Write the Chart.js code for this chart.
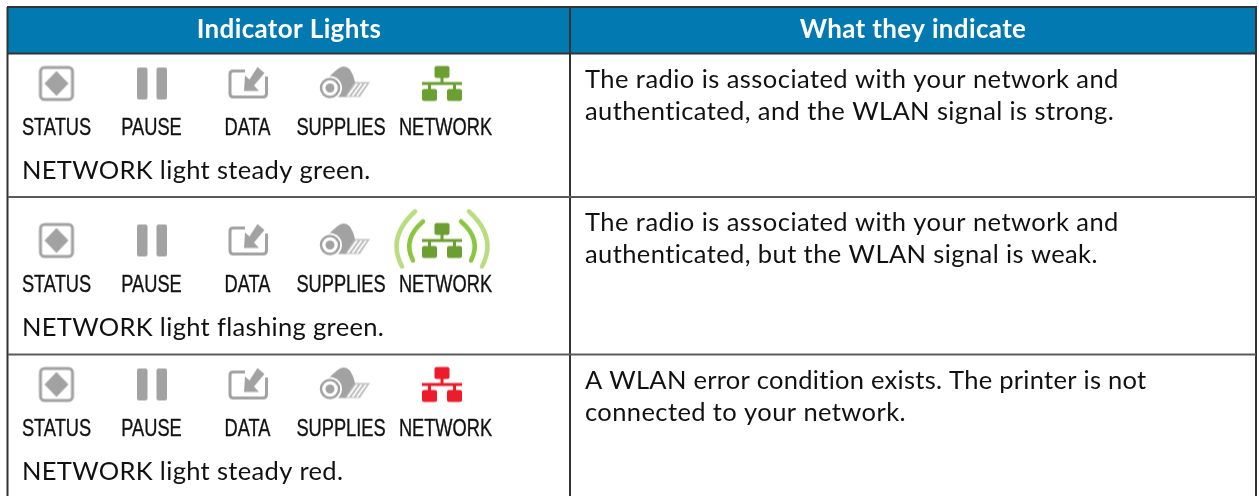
<!DOCTYPE html>
<html>
<head>
<meta charset="utf-8">
<style>
  html, body { margin: 0; padding: 0; background: #fff; overflow: hidden; }
  canvas { display: block; }
</style>
<script src="https://cdn.jsdelivr.net/npm/chart.js@4/dist/chart.umd.min.js"></script>
</head>
<body>
<canvas id="chart" width="1259" height="496"></canvas>
<script>
const tableHeaders = ["Indicator Lights", "What they indicate"];
const indicatorNames = ["STATUS", "PAUSE", "DATA", "SUPPLIES", "NETWORK"];
const networkStates = ["steady green", "flashing green", "steady red"];
const lightCaptions = [
  "NETWORK light steady green.",
  "NETWORK light flashing green.",
  "NETWORK light steady red.",
];
const descriptionFirstLines = [
  "The radio is associated with your network and",
  "The radio is associated with your network and",
  "A WLAN error condition exists. The printer is not",
];
const descriptionSecondLines = [
  "authenticated, and the WLAN signal is strong.",
  "authenticated, but the WLAN signal is weak.",
  "connected to your network.",
];

// page layout, all in picture pixels
const columnRules = [8, 570, 1256];
const rowRules = [8, 53.5, 197, 354.5, 496];
const headerCentres = [289, 913];
const iconX = [56.5, 152, 248, 346, 442];
const labelX = [56.5, 151.5, 247.5, 341, 445.5];
const rowShift = [0, 157, 301];
const textShift = [0, 143, 301];
const iconY = 83.5;
const labelY = 134.5;
const captionY = 178.5;
const firstLineY = 87.5;
const secondLineY = 119.5;
// Lato runs a little wider than the original face on some lines
const firstLineSpacing = ["0.45px", "0.45px", "0.27px"];
const secondLineSpacing = ["0.4px", "0.4px", "0.4px"];

const blue = "#0279b1";
const ruleDark = "#333333";
const ruleGrey = "#5a5a5a";
const iconGrey = "#a2a2a2";

function newIcon(width, height, draw) {
  const canvas = document.createElement("canvas");
  canvas.width = width;
  canvas.height = height;
  const ctx = canvas.getContext("2d");
  ctx.translate(width / 2, height / 2);
  draw(ctx);
  return canvas;
}

function box(ctx, x, y, w, h, r) {
  ctx.beginPath();
  ctx.roundRect(x, y, w, h, r);
  ctx.fill();
}

function statusIcon(ctx) {
  ctx.strokeStyle = iconGrey;
  ctx.fillStyle = iconGrey;
  ctx.lineWidth = 3;
  ctx.beginPath();
  ctx.roundRect(-16, -16, 32, 32, 4);
  ctx.stroke();
  ctx.beginPath();
  ctx.moveTo(0, -12.5);
  ctx.lineTo(12, 0);
  ctx.lineTo(0, 12.5);
  ctx.lineTo(-12, 0);
  ctx.closePath();
  ctx.fill();
}

function pauseIcon(ctx) {
  ctx.fillStyle = iconGrey;
  box(ctx, -15, -16, 10.5, 32, 2);
  box(ctx, 4.5, -16, 10.5, 32, 2);
}

function dataIcon(ctx) {
  ctx.strokeStyle = iconGrey;
  ctx.fillStyle = iconGrey;
  ctx.lineWidth = 3;
  ctx.lineJoin = "round";
  ctx.beginPath();
  ctx.moveTo(-3, -12.5);
  ctx.lineTo(-15, -12.5);
  ctx.quadraticCurveTo(-18, -12.5, -18, -9.5);
  ctx.lineTo(-18, 10);
  ctx.quadraticCurveTo(-18, 13.5, -14.5, 13.5);
  ctx.lineTo(15, 13.5);
  ctx.quadraticCurveTo(18.5, 13.5, 18.5, 10);
  ctx.lineTo(18.5, -7);
  ctx.stroke();
  const arrow = [[-4, 7.5], [-3, -8], [1.5, -4], [9.5, -16.5], [16.5, -10.5], [6, 2], [11, 7.5]];
  ctx.beginPath();
  arrow.forEach((p, i) => (i ? ctx.lineTo(p[0], p[1]) : ctx.moveTo(p[0], p[1])));
  ctx.closePath();
  ctx.strokeStyle = "#fff";
  ctx.lineWidth = 3;
  ctx.stroke();
  ctx.fill();
}

function suppliesIcon(ctx) {
  ctx.fillStyle = iconGrey;
  ctx.beginPath();
  ctx.moveTo(-18, -6);
  ctx.lineTo(-9, -14);
  ctx.quadraticCurveTo(-2, -20, 4, -14);
  ctx.quadraticCurveTo(8, -8, 9, -1.5);
  ctx.lineTo(9, 8);
  ctx.lineTo(0, 13.5);
  ctx.lineTo(-12, 13.5);
  ctx.closePath();
  ctx.fill();
  ctx.fillStyle = "#c2c2c2";
  ctx.beginPath();
  ctx.moveTo(9, -1.5);
  ctx.lineTo(24, -1.5);
  ctx.lineTo(14, 13.5);
  ctx.lineTo(-1, 13.5);
  ctx.closePath();
  ctx.fill();
  ctx.strokeStyle = "#fff";
  ctx.lineWidth = 1.5;
  for (const s of [8, 12.5, 17]) {
    ctx.beginPath();
    ctx.moveTo(s + 3, 0);
    ctx.lineTo(s - 6, 12.5);
    ctx.stroke();
  }
  ctx.fillStyle = "#fff";
  ctx.beginPath();
  ctx.arc(-16, 4.5, 12, 0, Math.PI * 2);
  ctx.fill();
  ctx.strokeStyle = iconGrey;
  ctx.lineWidth = 2.5;
  ctx.beginPath();
  ctx.arc(-16, 4.5, 9, 0, Math.PI * 2);
  ctx.stroke();
  ctx.fillStyle = iconGrey;
  ctx.beginPath();
  ctx.arc(-16, 4.5, 4.5, 0, Math.PI * 2);
  ctx.fill();
}

function networkIcon(ctx, colour, waves) {
  ctx.fillStyle = colour;
  box(ctx, -7.5, -17.5, 15, 12, 2);
  ctx.fillRect(-1.5, -6, 3, 5);
  ctx.fillRect(-20, -1.5, 40, 3);
  ctx.fillRect(-14, 1, 3, 5);
  ctx.fillRect(11, 1, 3, 5);
  box(ctx, -20, 5.5, 15, 12, 2);
  box(ctx, 5, 5.5, 15, 12, 2);
  if (!waves) return;
  ctx.lineCap = "round";
  ctx.lineWidth = 4.5;
  for (const side of [-1, 1]) {
    ctx.strokeStyle = "#b9dc7e";
    ctx.beginPath();
    ctx.moveTo(side * 27, -29);
    ctx.quadraticCurveTo(side * 55.5, -3, side * 40, 26);
    ctx.stroke();
    ctx.strokeStyle = "#8cc63f";
    ctx.beginPath();
    ctx.moveTo(side * 19, -19);
    ctx.quadraticCurveTo(side * 40, -1, side * 29, 20);
    ctx.stroke();
  }
}

const greyIcons = [
  newIcon(60, 60, statusIcon),
  newIcon(60, 60, pauseIcon),
  newIcon(60, 60, dataIcon),
  newIcon(70, 60, suppliesIcon),
];
const networkIcons = [
  newIcon(110, 70, (ctx) => networkIcon(ctx, "#6b9f32", false)),
  newIcon(110, 70, (ctx) => networkIcon(ctx, "#6b9f32", true)),
  newIcon(110, 70, (ctx) => networkIcon(ctx, "#ed1c2a", false)),
];

// one dataset per indicator, one point per table row
const iconDatasets = indicatorNames.map((name, col) => ({
  label: name,
  data: networkStates.map((state, row) => ({ x: iconX[col], y: iconY + rowShift[row] })),
  pointStyle: networkStates.map((state, row) => (col === 4 ? networkIcons[row] : greyIcons[col])),
  pointRadius: 10,
  showLine: false,
}));

function ruleDataset(points, colour, width) {
  return {
    data: points.map((p) => ({ x: p[0], y: p[1] })),
    showLine: true,
    borderColor: colour,
    borderWidth: width,
    pointRadius: 0,
    borderCapStyle: "butt",
    clip: false,
  };
}

const left = columnRules[0];
const mid = columnRules[1];
const right = columnRules[2];
const ruleDatasets = [
  ruleDataset([[left - 1, rowRules[0] - 1], [right + 1, rowRules[0] - 1]], ruleDark, 2),
  ruleDataset([[left, rowRules[1]], [right, rowRules[1]]], ruleDark, 2),
  ruleDataset([[left, rowRules[2]], [right, rowRules[2]]], ruleGrey, 2),
  ruleDataset([[left, rowRules[3]], [right, rowRules[3]]], ruleGrey, 2),
  ruleDataset([[left - 0.5, 7], [left - 0.5, rowRules[4]]], ruleDark, 2),
  ruleDataset([[mid, rowRules[0]], [mid, rowRules[4]]], ruleDark, 2),
  ruleDataset([[right, 7], [right, rowRules[4]]], ruleDark, 2),
];

const tablePlugin = {
  id: "tablePlugin",
  beforeDatasetsDraw(chart) {
    const ctx = chart.ctx;
    const x = chart.scales.x;
    const y = chart.scales.y;
    ctx.save();
    ctx.fillStyle = blue;
    ctx.fillRect(x.getPixelForValue(left), y.getPixelForValue(rowRules[0]),
      x.getPixelForValue(right) - x.getPixelForValue(left), y.getPixelForValue(rowRules[1]) - y.getPixelForValue(rowRules[0]));
    ctx.restore();
  },
  afterDatasetsDraw(chart) {
    const ctx = chart.ctx;
    const x = chart.scales.x;
    const y = chart.scales.y;
    const put = (text, px, py) => ctx.fillText(text, x.getPixelForValue(px), y.getPixelForValue(py));
    // the labels are a condensed face, no narrow font is installed so squeeze one
    const putNarrow = (text, px, py) => {
      ctx.save();
      ctx.translate(x.getPixelForValue(px), y.getPixelForValue(py));
      ctx.scale(0.76, 1);
      ctx.fillText(text, 0, 0);
      ctx.strokeText(text, 0, 0);
      ctx.restore();
    };
    ctx.save();
    ctx.textBaseline = "alphabetic";

    ctx.fillStyle = "#fff";
    ctx.textAlign = "center";
    ctx.font = "bold 26px Lato";
    ctx.letterSpacing = "0.35px";
    tableHeaders.forEach((text, i) => put(text, headerCentres[i], 37.5));

    ctx.fillStyle = "#111";
    ctx.strokeStyle = "#111";
    ctx.lineWidth = 0.35;
    rowShift.forEach((shift, row) => {
      ctx.textAlign = "center";
      ctx.font = "24px 'Liberation Sans'";
      ctx.letterSpacing = "0px";
      indicatorNames.forEach((name, col) => putNarrow(name, labelX[col], labelY + shift));

      ctx.textAlign = "left";
      ctx.font = "25.5px Lato";
      ctx.letterSpacing = "0.33px";
      put(lightCaptions[row], 22, captionY + shift);
      ctx.letterSpacing = firstLineSpacing[row];
      put(descriptionFirstLines[row], 585, firstLineY + textShift[row]);
      ctx.letterSpacing = secondLineSpacing[row];
      put(descriptionSecondLines[row], 585, secondLineY + textShift[row]);
    });
    ctx.restore();
  },
};

new Chart(document.getElementById("chart"), {
  type: "scatter",
  data: { datasets: ruleDatasets.concat(iconDatasets) },
  options: {
    responsive: false,
    animation: false,
    layout: { padding: 0, autoPadding: false },
    plugins: { legend: { display: false }, tooltip: { enabled: false } },
    scales: {
      x: { type: "linear", min: 0, max: 1259, display: false },
      y: { type: "linear", min: 0, max: 496, reverse: true, display: false },
    },
  },
  plugins: [tablePlugin],
});
</script>
</body>
</html>
